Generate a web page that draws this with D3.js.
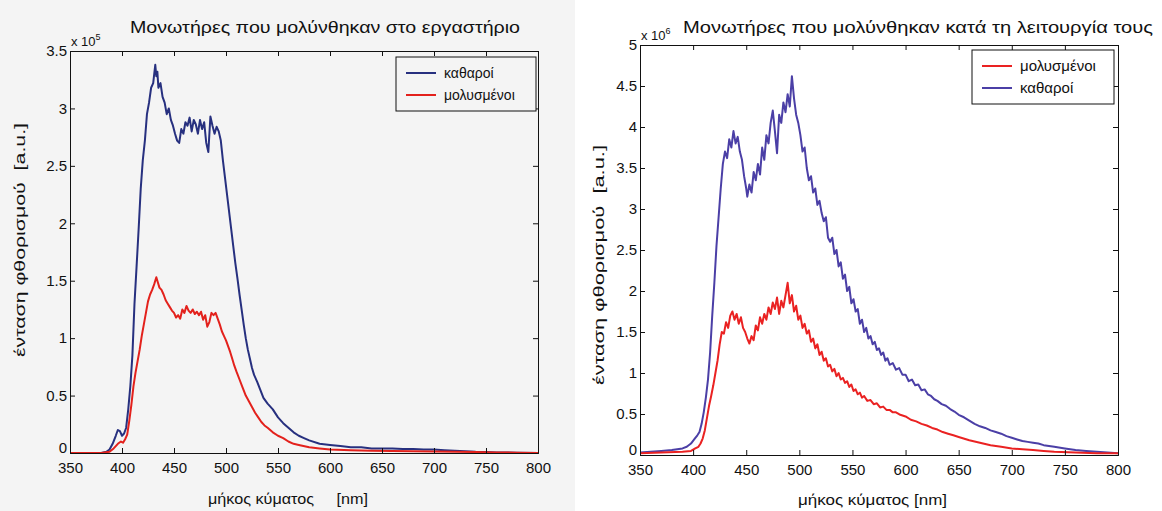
<!DOCTYPE html>
<html>
<head>
<meta charset="utf-8">
<script src="https://cdn.jsdelivr.net/npm/d3@7"></script>
<style>
  body { margin: 0; background: #fff; }
  svg text { font-family: "Liberation Sans", Arial, sans-serif; fill: #111; white-space: pre; }
</style>
</head>
<body>
<svg id="chart" width="1162" height="511"></svg>
<script>

//////////////////////
// Data
//////////////////////

var xTicks = [350, 400, 450, 500, 550, 600, 650, 700, 750, 800];
var yTicksLeft = [0, 0.5, 1, 1.5, 2, 2.5, 3, 3.5];
var yTicksRight = [0, 0.5, 1, 1.5, 2, 2.5, 3, 3.5, 4, 4.5, 5];
var yTickLabelsLeft = ["0", "0.5", "1", "1.5", "2", "2.5", "3", "3.5"];
var yTickLabelsRight = ["0", "0.5", "1", "1.5", "2", "2.5", "3", "3.5", "4", "4.5", "5"];

// lab contaminated insulators (x 10^5)
var labClean = [
  [350,0],[360,0],[370,0],[380,0],[385,0.01],[388,0.03],[391,0.08],[394,0.15],[396,0.2],[398,0.19],
  [400,0.15],[402,0.17],[404,0.22],[406,0.38],[408,0.58],[410,0.85],[412,1.3],[414,1.62],[416,1.95],
  [418,2.3],[420,2.55],[422,2.72],[424,2.95],[426,3.05],[428,3.18],[430,3.22],[431,3.3],[432,3.38],
  [433,3.28],[434,3.32],[435,3.18],[437,3.22],[439,3.1],[441,3.05],[443,2.95],[445,3.0],[447,2.9],
  [449,2.85],[451,2.78],[453,2.72],[455,2.7],[457,2.82],[459,2.78],[461,2.88],[463,2.85],[465,2.92],
  [467,2.8],[469,2.9],[471,2.86],[473,2.78],[475,2.9],[477,2.82],[479,2.88],[481,2.7],[483,2.62],
  [485,2.93],[487,2.85],[489,2.78],[491,2.84],[493,2.8],[495,2.72],[497,2.55],[499,2.4],[501,2.25],
  [503,2.1],[505,1.95],[507,1.8],[509,1.65],[511,1.52],[513,1.38],[515,1.25],[517,1.12],[519,1.0],
  [521,0.9],[523,0.82],[525,0.74],[527,0.68],[530,0.62],[533,0.55],[536,0.48],[540,0.43],[545,0.38],
  [550,0.31],[555,0.26],[560,0.22],[565,0.18],[570,0.15],[575,0.13],[580,0.11],[590,0.08],[600,0.07],
  [610,0.06],[620,0.05],[630,0.05],[640,0.04],[650,0.04],[660,0.04],[670,0.035],[680,0.035],[690,0.03],
  [700,0.03],[710,0.025],[720,0.02],[730,0.015],[740,0.01],[750,0.008],[760,0.005],[780,0.003],[800,0]
];
var labDirty = [
  [350,0],[380,0],[388,0.01],[392,0.04],[396,0.08],[399,0.1],[401,0.09],[403,0.12],[405,0.16],
  [407,0.28],[409,0.42],[411,0.58],[413,0.7],[415,0.8],[417,0.9],[419,1.02],[421,1.12],[423,1.22],
  [425,1.32],[427,1.38],[429,1.42],[431,1.47],[433,1.53],[434,1.5],[436,1.44],[438,1.42],[440,1.38],
  [442,1.33],[444,1.3],[446,1.27],[448,1.24],[450,1.22],[452,1.18],[454,1.2],[456,1.17],[458,1.25],
  [460,1.22],[462,1.28],[464,1.24],[466,1.22],[468,1.25],[470,1.21],[472,1.23],[474,1.2],[476,1.23],
  [478,1.16],[480,1.2],[482,1.1],[484,1.14],[486,1.22],[488,1.2],[490,1.22],[492,1.17],[494,1.12],
  [496,1.06],[498,1.02],[500,0.98],[502,0.93],[504,0.88],[506,0.82],[508,0.76],[510,0.71],[513,0.64],
  [516,0.57],[519,0.5],[522,0.45],[525,0.4],[528,0.35],[531,0.31],[534,0.27],[537,0.24],[540,0.22],
  [545,0.18],[550,0.15],[555,0.13],[560,0.1],[565,0.08],[570,0.07],[580,0.05],[590,0.04],[600,0.03],
  [620,0.025],[640,0.02],[660,0.018],[680,0.015],[700,0.012],[720,0.01],[740,0.008],[760,0.005],
  [780,0.003],[800,0]
];

// insulators contaminated in service (x 10^6)
var fieldClean = [
  [350,0.03],[360,0.04],[370,0.05],[380,0.06],[385,0.07],[390,0.08],[394,0.1],[398,0.14],[401,0.19],
  [404,0.24],[406,0.28],[408,0.38],[410,0.52],[412,0.7],[414,0.92],[416,1.25],[418,1.7],[420,2.1],
  [422,2.55],[424,2.9],[426,3.25],[428,3.55],[430,3.7],[432,3.62],[434,3.85],[436,3.75],[438,3.95],
  [440,3.8],[442,3.88],[444,3.7],[446,3.6],[448,3.4],[450,3.25],[451,3.15],[453,3.3],[455,3.2],
  [457,3.45],[459,3.35],[461,3.55],[463,3.42],[465,3.75],[467,3.6],[469,3.9],[471,3.8],[473,4.05],
  [475,4.2],[477,3.95],[479,3.68],[481,4.15],[483,4.05],[485,4.3],[487,4.18],[489,4.4],[491,4.25],
  [493,4.62],[495,4.35],[497,4.15],[499,4.05],[501,3.9],[503,3.7],[505,3.75],[507,3.5],[509,3.35],
  [511,3.4],[513,3.2],[515,3.25],[517,3.05],[519,3.1],[521,2.95],[523,2.85],[525,2.9],[527,2.65],
  [529,2.6],[531,2.65],[533,2.45],[535,2.5],[537,2.3],[539,2.35],[541,2.15],[543,2.2],[545,2.0],
  [547,2.05],[549,1.85],[551,1.9],[553,1.75],[555,1.78],[557,1.6],[559,1.65],[561,1.5],[563,1.55],
  [565,1.42],[567,1.45],[569,1.35],[571,1.38],[573,1.28],[575,1.3],[577,1.22],[579,1.25],[581,1.15],
  [583,1.18],[585,1.1],[588,1.12],[591,1.04],[594,1.06],[597,0.98],[600,0.98],[603,0.9],[606,0.92],
  [609,0.85],[612,0.86],[615,0.79],[618,0.8],[621,0.74],[624,0.72],[627,0.68],[630,0.66],[634,0.62],
  [638,0.6],[642,0.56],[646,0.53],[650,0.49],[655,0.46],[660,0.42],[665,0.38],[670,0.35],[675,0.33],
  [680,0.3],[685,0.28],[690,0.26],[695,0.23],[700,0.21],[705,0.19],[710,0.17],[715,0.16],[720,0.15],
  [725,0.14],[730,0.12],[740,0.1],[750,0.08],[760,0.06],[770,0.05],[780,0.04],[790,0.03],[800,0.02]
];
var fieldDirty = [
  [350,0.02],[370,0.03],[390,0.04],[398,0.05],[402,0.08],[405,0.1],[407,0.14],[409,0.2],[411,0.3],
  [413,0.45],[415,0.6],[417,0.72],[419,0.85],[421,1.0],[423,1.15],[425,1.35],[427,1.5],[429,1.48],
  [431,1.62],[433,1.55],[435,1.7],[437,1.75],[439,1.65],[441,1.72],[443,1.6],[445,1.68],[447,1.55],
  [449,1.5],[451,1.42],[453,1.36],[455,1.45],[457,1.4],[459,1.58],[461,1.52],[463,1.68],[465,1.6],
  [467,1.72],[469,1.65],[471,1.8],[473,1.72],[475,1.86],[477,1.78],[479,1.92],[481,1.72],[483,1.88],
  [485,1.8],[487,1.95],[489,2.1],[491,1.85],[493,1.95],[495,1.75],[497,1.82],[499,1.65],[501,1.7],
  [503,1.55],[505,1.6],[507,1.48],[509,1.52],[511,1.38],[513,1.42],[515,1.3],[517,1.35],[519,1.22],
  [521,1.26],[523,1.15],[525,1.18],[527,1.08],[529,1.1],[531,1.02],[533,1.05],[535,0.96],[537,1.0],
  [539,0.92],[541,0.94],[543,0.88],[545,0.9],[547,0.83],[549,0.86],[551,0.78],[553,0.8],[555,0.74],
  [557,0.76],[559,0.7],[561,0.72],[564,0.66],[567,0.67],[570,0.62],[573,0.63],[576,0.58],[579,0.59],
  [582,0.55],[585,0.55],[588,0.52],[591,0.52],[595,0.49],[600,0.47],[605,0.43],[610,0.41],[615,0.38],
  [620,0.36],[625,0.33],[630,0.31],[635,0.28],[640,0.26],[645,0.24],[650,0.22],[660,0.18],[670,0.15],
  [680,0.12],[690,0.1],[700,0.08],[710,0.07],[720,0.06],[730,0.05],[740,0.04],[760,0.03],[780,0.02],
  [800,0.02]
];

//////////////////////
// Drawing
//////////////////////

var svg = d3.select("#chart");

// left half has the greyish scan background
svg.append("rect").attr("x", 0).attr("y", 0).attr("width", 575).attr("height", 511).attr("fill", "#f4f4f4");

function drawPanel(cfg) {

    var g = svg.append("g");

    var x = d3.scaleLinear().domain([350, 800]).range([cfg.left, cfg.right]);
    var y = d3.scaleLinear().domain([0, cfg.yMax]).range([cfg.bottom, cfg.top]);

    g.append("rect")
        .attr("x", cfg.left).attr("y", cfg.top)
        .attr("width", cfg.right - cfg.left).attr("height", cfg.bottom - cfg.top)
        .attr("fill", cfg.plotBg);

    var line = d3.line()
        .x(function(d) { return x(d[0]); })
        .y(function(d) { return y(d[1]); });

    cfg.series.forEach(function(s) {
        g.append("path")
            .datum(s.data)
            .attr("fill", "none")
            .attr("stroke", s.color)
            .attr("stroke-width", s.width)
            .attr("stroke-linejoin", "round")
            .attr("d", line);
    });

    // axes with inward ticks, MATLAB style, on all four sides
    var tickLen = 5;
    var bottomAxis = d3.axisBottom(x).tickValues(xTicks).tickSize(-tickLen).tickPadding(9);
    var topAxis = d3.axisTop(x).tickValues(xTicks).tickSize(-tickLen).tickFormat("");
    var leftAxis = d3.axisLeft(y).tickValues(cfg.yTicks).tickSize(-tickLen).tickPadding(3)
        .tickFormat(function(d, i) { return cfg.yLabels[i]; });
    var rightAxis = d3.axisRight(y).tickValues(cfg.yTicks).tickSize(-tickLen).tickFormat("");

    [[bottomAxis, "translate(0," + cfg.bottom + ")"],
     [topAxis, "translate(0," + cfg.top + ")"],
     [leftAxis, "translate(" + cfg.left + ",0)"],
     [rightAxis, "translate(" + cfg.right + ",0)"]].forEach(function(a, k) {
        var ax = g.append("g").attr("transform", a[1]).call(a[0]);
        ax.select(".domain").attr("stroke", "#111");
        ax.selectAll(".tick line").attr("stroke", "#111");
        ax.selectAll("text")
            .style("font-family", "'Liberation Sans', Arial, sans-serif")
            .style("font-size", "15px")
            .attr("fill", "#111");
        // lift the 0 label so it sits above the 350 label in the corner
        if (k === 2) {
            ax.selectAll(".tick text").filter(function(d) { return d === 0; }).attr("dy", "-0.05em");
        }
    });

    // exponent label
    var ex = g.append("text")
        .attr("x", cfg.left + 1).attr("y", cfg.top - 5)
        .style("font-size", "13px");
    ex.append("tspan").text("x 10");
    ex.append("tspan").attr("dy", -6).style("font-size", "9px").text(cfg.exponent);

    // title
    g.append("text")
        .attr("x", cfg.titleX).attr("y", cfg.titleY)
        .attr("textLength", cfg.titleW).attr("lengthAdjust", "spacingAndGlyphs")
        .style("font-size", "16px")
        .text(cfg.title);

    // axis labels
    g.append("text")
        .attr("x", cfg.xLabelX).attr("y", cfg.xLabelY)
        .attr("textLength", cfg.xLabelW).attr("lengthAdjust", "spacingAndGlyphs")
        .style("font-size", "15px")
        .text(cfg.xLabel);

    g.append("text")
        .attr("transform", "translate(" + cfg.yLabelX + "," + cfg.yLabelY + ") rotate(-90)")
        .attr("textLength", cfg.yLabelW).attr("lengthAdjust", "spacingAndGlyphs")
        .style("font-size", "15px")
        .text(cfg.yLabel);

    // legend
    var lg = g.append("g").attr("transform", "translate(" + cfg.legX + "," + cfg.legY + ")");
    lg.append("rect")
        .attr("width", cfg.legW).attr("height", cfg.legH)
        .attr("fill", cfg.plotBg).attr("stroke", "#111");
    cfg.legend.forEach(function(item, i) {
        var ly = 16 + i * 22;
        lg.append("line")
            .attr("x1", 10).attr("x2", 40).attr("y1", ly).attr("y2", ly)
            .attr("stroke", item.color).attr("stroke-width", 2);
        lg.append("text")
            .attr("x", 48).attr("y", ly + 5)
            .style("font-size", cfg.legFont)
            .text(item.name);
    });
}

drawPanel({
    left: 70, right: 538, top: 51, bottom: 453, yMax: 3.5,
    yTicks: yTicksLeft, yLabels: yTickLabelsLeft, exponent: "5",
    plotBg: "#f4f4f4",
    title: "Μονωτήρες που μολύνθηκαν στο εργαστήριο",
    titleX: 130, titleY: 33, titleW: 390,
    xLabel: "μήκος κύματος     [nm]", xLabelX: 208, xLabelY: 504, xLabelW: 160,
    yLabel: "ένταση φθορισμού  [a.u.]", yLabelX: 25, yLabelY: 357, yLabelW: 234,
    legX: 396, legY: 57, legW: 140, legH: 54, legFont: "14px",
    series: [
        { data: labClean, color: "#27307f", width: 2 },
        { data: labDirty, color: "#e3211c", width: 2 }
    ],
    legend: [
        { name: "καθαροί", color: "#27307f" },
        { name: "μολυσμένοι", color: "#e3211c" }
    ]
});

drawPanel({
    left: 640, right: 1118, top: 45, bottom: 455, yMax: 5,
    yTicks: yTicksRight, yLabels: yTickLabelsRight, exponent: "6",
    plotBg: "#ffffff",
    title: "Μονωτήρες που μολύνθηκαν κατά τη λειτουργία τους",
    titleX: 683, titleY: 33, titleW: 470,
    xLabel: "μήκος κύματος [nm]", xLabelX: 798, xLabelY: 505, xLabelW: 149,
    yLabel: "ένταση φθορισμού  [a.u.]", yLabelX: 604, yLabelY: 385, yLabelW: 240,
    legX: 972, legY: 50, legW: 142, legH: 54, legFont: "15px",
    series: [
        { data: fieldClean, color: "#4b3fa6", width: 2 },
        { data: fieldDirty, color: "#ea2222", width: 2 }
    ],
    legend: [
        { name: "μολυσμένοι", color: "#ea2222" },
        { name: "καθαροί", color: "#4b3fa6" }
    ]
});

</script>
</body>
</html>
